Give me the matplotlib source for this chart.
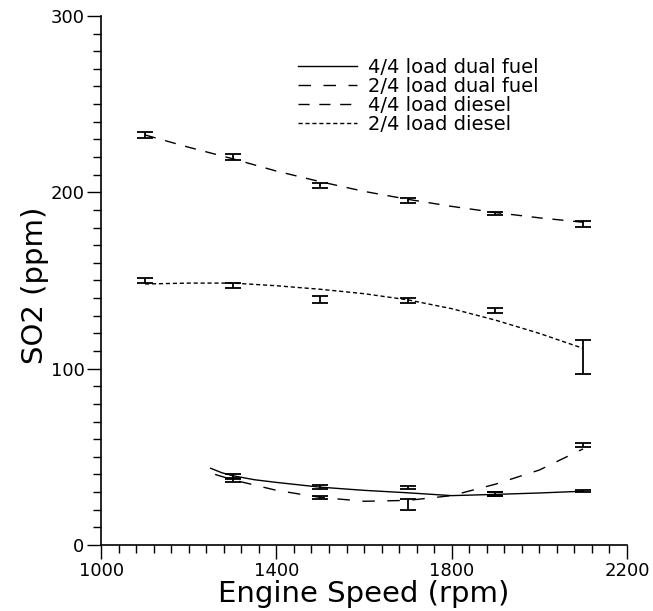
"""SO2 emissions vs engine speed, dual fuel vs diesel."""

import matplotlib

matplotlib.use("Agg")
import matplotlib.pyplot as plt
from matplotlib.ticker import MultipleLocator

# measured points (with error bars)
speeds = [1100, 1300, 1500, 1700, 1900, 2100]

diesel_44 = [232.5, 220, 204, 195.5, 188, 182]
diesel_44_err = [1.5, 1.5, 1.5, 1.5, 1.0, 1.5]
diesel_24 = [150, 147, 139, 138.5, 133, 106.5]
diesel_24_err = [1.5, 1.5, 2.0, 1.5, 1.5, 9.5]

dual_speeds = [1300, 1500, 1700, 1900, 2100]
dual_44 = [39, 33, 32.5, 29, 30.5]
dual_44_err = [1.5, 1.0, 0.8, 1.0, 0.7]
dual_24 = [37, 27, 23, 29, 56.5]
dual_24_err = [1.0, 1.0, 3.0, 1.0, 1.2]

# fitted curves
diesel_curve_x = [1100, 1200, 1300, 1400, 1500, 1600, 1700, 1800, 1900, 2000, 2100]
diesel_44_curve = [232.5, 225.5, 219, 212, 206, 200.5, 196, 192, 188.5, 185.5, 183]
diesel_24_curve = [148, 148.5, 148.5, 147, 145, 142.5, 139, 134, 127.5, 120, 111.5]

dual_44_curve_x = [1250, 1275, 1300, 1350, 1400, 1500, 1600, 1700, 1800, 1900, 2000, 2100]
dual_44_curve = [43.5, 41, 39.3, 37, 35.5, 32.8, 31, 29.6, 28, 28.7, 29.5, 30.5]
dual_24_curve_x = [1260, 1300, 1400, 1500, 1600, 1700, 1800, 1900, 2000, 2100]
dual_24_curve = [40, 37, 31, 27, 24.8, 25.3, 28, 34.5, 42.5, 54.5]

x_ticks = [1000, 1400, 1800, 2200]
y_ticks = [0, 100, 200, 300]
labels = ["4/4 load dual fuel", "2/4 load dual fuel", "4/4 load diesel", "2/4 load diesel"]

fig = plt.figure(figsize=(6.53, 6.11), dpi=100)
ax = fig.add_axes([0.155, 0.108, 0.805, 0.866])

lw = 1.0
ax.plot(dual_44_curve_x, dual_44_curve, color="black", lw=lw, label=labels[0])
ax.plot(dual_24_curve_x, dual_24_curve, color="black", lw=lw, dashes=(9, 9), label=labels[1])
ax.plot(diesel_curve_x, diesel_44_curve, color="black", lw=lw, dashes=(8, 7), label=labels[2])
ax.plot(diesel_curve_x, diesel_24_curve, color="black", lw=lw, dashes=(3, 2), label=labels[3])

err_kw = dict(fmt="none", ecolor="black", elinewidth=1.3, capsize=6, capthick=1.3)
ax.errorbar(speeds, diesel_44, yerr=diesel_44_err, **err_kw)
ax.errorbar(speeds, diesel_24, yerr=diesel_24_err, **err_kw)
ax.errorbar(dual_speeds, dual_44, yerr=dual_44_err, **err_kw)
ax.errorbar(dual_speeds, dual_24, yerr=dual_24_err, **err_kw)

ax.set_xlim(1000, 2200)
ax.set_ylim(0, 300)
ax.set_xticks(x_ticks)
ax.set_yticks(y_ticks)
ax.xaxis.set_minor_locator(MultipleLocator(40))
ax.yaxis.set_minor_locator(MultipleLocator(10))
ax.tick_params(which="major", direction="out", length=10, width=1, labelsize=13, pad=2)
ax.tick_params(which="minor", direction="out", length=6, width=1)
for side in ["top", "right"]:
    ax.spines[side].set_visible(False)
for side in ["left", "bottom"]:
    ax.spines[side].set_linewidth(1.2)

ax.set_xlabel("Engine Speed (rpm)", fontsize=21, labelpad=0)
ax.set_ylabel("SO2 (ppm)", fontsize=21)
ax.yaxis.set_label_coords(-0.1, 0.49)

ax.legend(loc="upper left", bbox_to_anchor=(0.36, 0.935), frameon=False, fontsize=14,
          handlelength=3.0, handletextpad=0.6, labelspacing=0.0, borderaxespad=0)

fig.savefig("out.png", dpi=100)
